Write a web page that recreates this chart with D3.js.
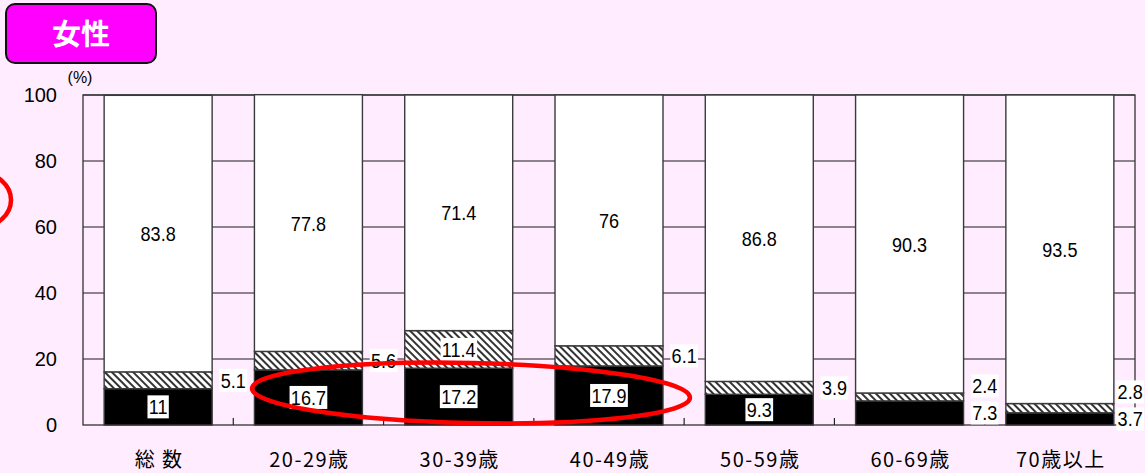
<!DOCTYPE html>
<html>
<head>
<meta charset="utf-8">
<script src="https://cdn.jsdelivr.net/npm/d3@7"></script>
<style>
  html, body { margin: 0; padding: 0; background: #FFEDFF; }
  svg { display: block; }
</style>
</head>
<body>
<svg id="chart" width="1145" height="473"></svg>
<script>
// Age groups and their shares (%), stacked bottom to top
const categories = ["総 数", "20-29歳", "30-39歳", "40-49歳", "50-59歳", "60-69歳", "70歳以上"];
const blackValues = [11, 16.7, 17.2, 17.9, 9.3, 7.3, 3.7];
const hatchValues = [5.1, 5.6, 11.4, 6.1, 3.9, 2.4, 2.8];
const whiteValues = [83.8, 77.8, 71.4, 76, 86.8, 90.3, 93.5];
const yTicks = [0, 20, 40, 60, 80, 100];
const titleText = "女性";
const unitText = "(%)";

const svg = d3.select("#chart");
const W = 1145, H = 473;
const plot = { left: 83, right: 1135, top: 95, bottom: 425 };

svg.append("rect").attr("width", W).attr("height", H).attr("fill", "#FFEDFF");

// Hatch pattern for the middle segment
const defs = svg.append("defs");
const pat = defs.append("pattern")
  .attr("id", "hatch")
  .attr("patternUnits", "userSpaceOnUse")
  .attr("width", 5).attr("height", 5)
  .attr("patternTransform", "rotate(-45)");
pat.append("rect").attr("width", 5).attr("height", 5).attr("fill", "#ffffff");
pat.append("rect").attr("x", 0).attr("y", 0).attr("width", 2).attr("height", 5).attr("fill", "#333333");

const x = d3.scaleBand()
  .domain(categories)
  .range([plot.left, plot.right])
  .paddingInner(0.2814)
  .paddingOuter(0.1407);

const y = d3.scaleLinear().domain([0, 100]).range([plot.bottom, plot.top]);

// Gridlines
svg.append("g")
  .selectAll("line")
  .data(yTicks.filter(d => d > 0))
  .join("line")
  .attr("x1", plot.left).attr("x2", plot.right)
  .attr("y1", d => y(d)).attr("y2", d => y(d))
  .attr("stroke", "#1a1a1a").attr("stroke-width", 1.2);

// Frame
svg.append("rect")
  .attr("x", plot.left).attr("y", plot.top)
  .attr("width", plot.right - plot.left).attr("height", plot.bottom - plot.top)
  .attr("fill", "none").attr("stroke", "#333").attr("stroke-width", 1.3);

// Stacked data
const rows = categories.map((c, i) => ({
  cat: c, black: blackValues[i], hatch: hatchValues[i], white: whiteValues[i]
}));
const keys = ["black", "hatch", "white"];
const fills = { black: "#000000", hatch: "url(#hatch)", white: "#ffffff" };
const stacked = d3.stack().keys(keys)(rows);

const gBars = svg.append("g");
stacked.forEach(layer => {
  gBars.selectAll(null)
    .data(layer)
    .join("rect")
    .attr("x", d => x(d.data.cat))
    .attr("width", x.bandwidth())
    .attr("y", d => y(d[1]))
    .attr("height", d => y(d[0]) - y(d[1]))
    .attr("fill", fills[layer.key])
    .attr("stroke", "#3a3a3a")
    .attr("stroke-width", 1.4);
});

// Category separator ticks along the bottom
const step = x.step();
svg.append("g")
  .selectAll("line")
  .data(categories.slice(1))
  .join("line")
  .attr("x1", d => x(d) - (step - x.bandwidth()) / 2)
  .attr("x2", d => x(d) - (step - x.bandwidth()) / 2)
  .attr("y1", plot.bottom - 7).attr("y2", plot.bottom)
  .attr("stroke", "#222").attr("stroke-width", 1.2);

// Y axis labels
svg.append("g")
  .selectAll("text")
  .data(yTicks)
  .join("text")
  .attr("x", 57)
  .attr("y", d => y(d) + 7)
  .attr("text-anchor", "end")
  .attr("font-family", "Liberation Sans, Arial, sans-serif")
  .attr("font-size", 20)
  .attr("fill", "#000")
  .text(d => d);

svg.append("text")
  .attr("x", 80).attr("y", 83)
  .attr("text-anchor", "middle")
  .attr("font-family", "Liberation Sans, Arial, sans-serif")
  .attr("font-size", 16)
  .text(unitText);

// Category labels
svg.append("g")
  .selectAll("text")
  .data(categories)
  .join("text")
  .attr("x", d => x(d) + x.bandwidth() / 2 + 1)
  .attr("y", 467)
  .attr("text-anchor", "middle")
  .attr("font-family", "Noto Sans CJK JP, sans-serif")
  .attr("font-size", 20)
  .attr("letter-spacing", 1.5)
  .attr("fill", "#000")
  .text(d => d);

// Value labels: inside the segment when it is tall enough, else in the gap to its right
const labels = [];
stacked.forEach(layer => {
  layer.forEach(d => {
    const v = d.data[layer.key];
    const h = y(d[0]) - y(d[1]);
    const cy = (y(d[0]) + y(d[1])) / 2;
    const inside = h >= 27;
    const cx = inside
      ? x(d.data.cat) + x.bandwidth() / 2
      : x(d.data.cat) + x.bandwidth() + (step - x.bandwidth()) / 2;
    labels.push({ v, cx, cy, inside, cat: d.data.cat });
  });
});
// Keep labels sharing a gap from overlapping
categories.forEach(c => {
  const out = labels.filter(l => l.cat === c && !l.inside).sort((a, b) => b.cy - a.cy);
  for (let i = 1; i < out.length; i++) {
    if (out[i].cy > out[i - 1].cy - 27) out[i].cy = out[i - 1].cy - 27;
  }
});

const sx = 0.86;
const gLab = svg.append("g");
labels.forEach(l => {
  const g = gLab.append("g");
  const t = g.append("text")
    .attr("x", 0).attr("y", 7.5)
    .attr("text-anchor", "middle")
    .attr("font-family", "Liberation Sans, Arial, sans-serif")
    .attr("font-size", 21)
    .attr("fill", "#000")
    .text(l.v);
  const bb = t.node().getBBox();
  g.insert("rect", "text")
    .attr("x", bb.x - 1.5).attr("y", bb.y)
    .attr("width", bb.width + 3).attr("height", bb.height)
    .attr("fill", "#ffffff");
  // keep the label inside the page
  const half = (bb.width + 3) * sx / 2;
  const cx = Math.min(l.cx, W - half - 1);
  g.attr("transform", `translate(${cx},${l.cy}) scale(${sx},1)`);
});

// Highlight ellipses
svg.append("ellipse")
  .attr("cx", 471).attr("cy", 393)
  .attr("rx", 219).attr("ry", 30)
  .attr("transform", "rotate(1.2 471 393)")
  .attr("fill", "none").attr("stroke", "#ff0000").attr("stroke-width", 4.5);

svg.append("ellipse")
  .attr("cx", -20).attr("cy", 200)
  .attr("rx", 31).attr("ry", 27)
  .attr("fill", "none").attr("stroke", "#ff0000").attr("stroke-width", 4.5);

// Title badge
svg.append("rect")
  .attr("x", 6).attr("y", 4)
  .attr("width", 150).attr("height", 59)
  .attr("rx", 9).attr("ry", 9)
  .attr("fill", "#FF00FF").attr("stroke", "#111").attr("stroke-width", 2);
svg.append("text")
  .attr("x", 81).attr("y", 45)
  .attr("text-anchor", "middle")
  .attr("font-family", "Noto Sans CJK JP, sans-serif")
  .attr("font-weight", "bold")
  .attr("font-size", 29)
  .attr("fill", "#ffffff")
  .text(titleText);
</script>
</body>
</html>
